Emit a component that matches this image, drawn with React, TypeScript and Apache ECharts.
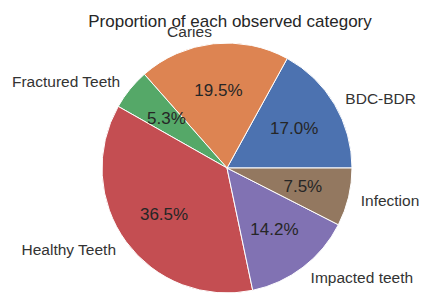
import React, { useEffect, useRef } from "react";
import * as echarts from "echarts";

const categories = ["BDC-BDR", "Caries", "Fractured Teeth", "Healthy Teeth", "Impacted teeth", "Infection"];
const values = [17.0, 19.5, 5.3, 36.5, 14.2, 7.5];
const colors = ["#4C72B0", "#DD8452", "#55A868", "#C44E52", "#8172B3", "#937860"];
const titleText = "Proportion of each observed category";

const FONT = "'Liberation Sans', Arial, Helvetica, sans-serif";
const CX = 227;
const CY = 168;
const R = 125;

export default function App() {
  const ref = useRef<HTMLDivElement>(null);
  useEffect(() => {
    if (!ref.current) return;
    const chart = echarts.init(ref.current, null, { renderer: "svg" });
    const data = categories.map((name, i) => ({ name, value: values[i] }));
    chart.setOption({
      animation: false,
      backgroundColor: "#ffffff",
      title: {
        text: titleText,
        left: 225,
        top: 8,
        textAlign: "center",
        textStyle: { fontFamily: FONT, fontSize: 17, fontWeight: "normal", color: "#262626" },
      },
      series: [
        {
          type: "pie",
          center: [CX, CY],
          radius: [0, R],
          startAngle: 0,
          clockwise: false,
          avoidLabelOverlap: false,
          silent: true,
          emphasis: { disabled: true },
          data: data.map((d, i) => ({ ...d, itemStyle: { color: colors[i] } })),
          itemStyle: { borderColor: "#ffffff", borderWidth: 1 },
          label: {
            show: true,
            position: "outside",
            formatter: "{b}",
            fontFamily: FONT,
            fontSize: 15.5,
            color: "#333333",
            distanceToLabelLine: 0,
          },
          labelLine: { show: false, length: R * 0.1, length2: 0 },
        },
        {
          type: "pie",
          center: [CX, CY],
          radius: [0, R * 1.2],
          startAngle: 0,
          clockwise: false,
          avoidLabelOverlap: false,
          silent: true,
          z: 5,
          emphasis: { disabled: true },
          data: data.map((d) => ({ ...d, itemStyle: { color: "rgba(0,0,0,0)" } })),
          itemStyle: { borderWidth: 0 },
          label: {
            show: true,
            position: "inside",
            formatter: (p: any) => p.value.toFixed(1) + "%",
            fontFamily: FONT,
            fontSize: 17,
            color: "#262626",
          },
          labelLine: { show: false },
        },
      ],
    });
    return () => chart.dispose();
  }, []);
  return (
    <div
      ref={ref}
      style={{ position: "fixed", left: 0, top: 0, width: 421, height: 293 }}
    />
  );
}
